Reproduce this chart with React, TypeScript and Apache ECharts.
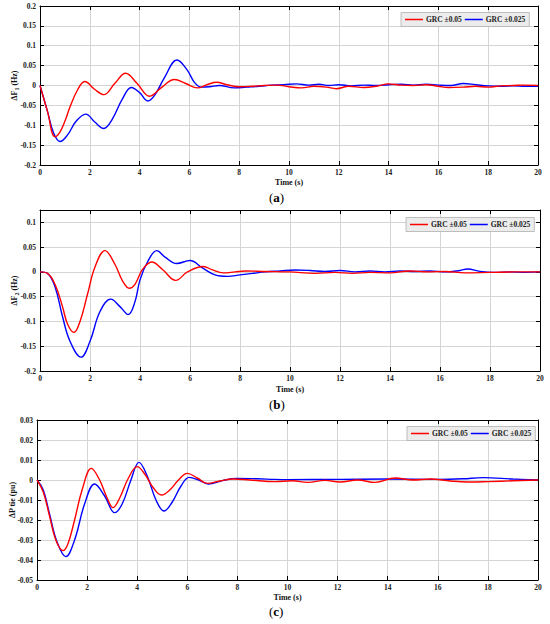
import React, { useEffect, useRef } from "react";
import * as echarts from "echarts";

// ---- Chart (a): ΔF1 ----
const f1RedT = [0, 0.3, 0.6, 0.8, 1.0, 1.2, 1.5, 1.8, 2.2, 2.56, 3.0, 3.44, 3.9, 4.4, 4.9, 5.4, 5.85, 6.33, 6.7, 7.1, 7.5, 8.0, 8.5, 9.0, 9.5, 10.0, 10.5, 11.0, 11.5, 11.9, 12.4, 13.0, 13.5, 14.0, 14.5, 15.0, 15.5, 16.0, 16.4, 17.0, 17.5, 18.0, 18.5, 19.0, 19.5, 20.0];
const f1RedV = [0, -0.065, -0.129, -0.117, -0.09, -0.055, -0.012, 0.010, -0.01, -0.023, 0.005, 0.031, 0.005, -0.027, -0.004, 0.015, 0.005, -0.006, 0.002, 0.008, 0.002, -0.003, -0.002, 0.0, 0.001, -0.003, -0.006, -0.002, -0.004, -0.008, -0.002, -0.005, -0.002, 0.004, 0.001, 0.0, 0.002, -0.002, -0.005, -0.004, -0.002, -0.004, -0.001, 0.0, 0.001, 0.0];
const f1BlueT = [0, 0.3, 0.55, 0.8, 1.1, 1.45, 1.84, 2.2, 2.56, 2.9, 3.3, 3.67, 4.0, 4.33, 4.6, 5.0, 5.5, 5.9, 6.2, 6.47, 6.8, 7.2, 7.8, 8.3, 8.8, 9.3, 9.8, 10.3, 10.8, 11.2, 11.6, 12.0, 12.5, 13.0, 13.5, 14.0, 14.5, 15.0, 15.5, 16.0, 16.5, 17.0, 17.5, 18.0, 18.5, 19.0, 19.5, 20.0];
const f1BlueV = [0, -0.065, -0.12, -0.141, -0.125, -0.09, -0.072, -0.092, -0.108, -0.085, -0.035, -0.005, -0.018, -0.039, -0.025, 0.02, 0.064, 0.04, 0.008, -0.004, -0.003, 0.0, -0.006, -0.004, -0.002, 0.001, 0.002, 0.004, 0.001, 0.003, 0.0, 0.002, -0.001, 0.001, 0.0, 0.002, 0.003, 0.001, 0.003, 0.001, 0.0, 0.005, 0.002, -0.001, -0.002, -0.001, -0.002, -0.002];

// ---- Chart (b): ΔF2 ----
const f2RedT = [0, 0.3, 0.6, 0.9, 1.1, 1.36, 1.6, 1.9, 2.2, 2.6, 3.0, 3.3, 3.57, 3.8, 4.1, 4.47, 4.9, 5.43, 5.9, 6.53, 6.9, 7.33, 7.8, 8.2, 9.0, 10.0, 11.0, 11.8, 12.5, 13.2, 14.0, 14.8, 15.5, 16.2, 17.0, 18.0, 19.0, 20.0];
const f2RedV = [0, -0.003, -0.025, -0.07, -0.105, -0.122, -0.1, -0.045, 0.01, 0.043, 0.015, -0.018, -0.033, -0.025, 0.005, 0.020, 0.005, -0.017, 0.0, 0.011, 0.004, -0.002, 0.0, 0.002, 0.001, 0.0, -0.003, -0.001, -0.003, -0.001, -0.002, 0.002, 0.0, 0.001, -0.002, -0.001, 0.0, 0.0];
const f2BlueT = [0, 0.3, 0.6, 0.9, 1.2, 1.64, 2.0, 2.4, 2.83, 3.2, 3.53, 3.8, 4.0, 4.3, 4.67, 5.0, 5.47, 6.0, 6.5, 7.0, 7.5, 8.0, 8.5, 9.0, 9.6, 10.2, 10.8, 11.4, 12.0, 12.6, 13.2, 13.8, 14.4, 15.0, 15.6, 16.2, 16.8, 17.1, 17.6, 18.2, 18.8, 19.4, 20.0];
const f2BlueV = [0, -0.003, -0.03, -0.09, -0.14, -0.172, -0.14, -0.08, -0.055, -0.07, -0.086, -0.06, -0.016, 0.02, 0.043, 0.03, 0.017, 0.023, 0.008, -0.006, -0.009, -0.006, -0.003, 0.0, 0.002, 0.004, 0.003, 0.001, 0.003, 0.0, 0.002, 0.0, 0.002, 0.001, 0.002, 0.0, 0.003, 0.006, 0.001, -0.001, 0.0, -0.001, 0.0];

// ---- Chart (c): ΔP tie ----
const ptRedT = [0, 0.25, 0.5, 0.75, 1.04, 1.24, 1.5, 1.8, 2.17, 2.5, 2.8, 3.04, 3.3, 3.65, 4.0, 4.3, 4.65, 4.97, 5.3, 5.65, 6.0, 6.4, 6.8, 7.3, 7.84, 8.5, 9.5, 10.2, 10.8, 11.5, 12.1, 12.8, 13.5, 14.3, 15.0, 15.7, 16.5, 17.2, 18.0, 19.0, 20.0];
const ptRedV = [0, -0.006, -0.018, -0.03, -0.0353, -0.0317, -0.02, -0.005, 0.0058, 0.0, -0.009, -0.0138, -0.009, 0.001, 0.0067, 0.003, -0.004, -0.0075, -0.005, 0.0, 0.0033, 0.001, -0.0017, -0.0005, 0.0005, 0.0, -0.0008, -0.0004, -0.0012, -0.0002, -0.001, 0.0, -0.0012, 0.001, 0.0, 0.0005, -0.0005, -0.001, -0.0008, -0.0004, 0.0];
const ptBlueT = [0, 0.25, 0.5, 0.8, 1.15, 1.5, 1.9, 2.3, 2.7, 3.1, 3.4, 3.75, 4.07, 4.4, 4.75, 5.07, 5.4, 5.75, 6.08, 6.45, 6.84, 7.4, 7.97, 8.8, 9.5, 10.0, 12.0, 14.0, 16.0, 17.0, 17.8, 19.0, 20.0];
const ptBlueV = [0, -0.005, -0.017, -0.031, -0.0383, -0.03, -0.012, -0.002, -0.008, -0.0163, -0.012, 0.0, 0.0088, 0.002, -0.01, -0.0155, -0.011, -0.003, 0.0013, 0.0, -0.002, -0.0003, 0.0008, 0.0006, 0.0003, 0.0002, 0.0003, 0.0005, 0.0003, 0.0006, 0.0012, 0.0005, 0.0];

const legendNames = ["GRC ±0.05", "GRC ±0.025"];
const xTicks = { min: 0, max: 20, interval: 2 };
const panelLabels = ["a", "b", "c"];

const pairs = (t: number[], v: number[]) => t.map((x, i) => [x, v[i]]);

const FONT = "'Liberation Serif', 'Times New Roman', serif";

export default function App() {
  const ref = useRef<HTMLDivElement>(null);
  useEffect(() => {
    document.body.style.margin = "0";
    const chart = echarts.init(ref.current!, undefined, { renderer: "svg" });

    const grids = [
      { left: 40, top: 6, width: 498, height: 159, containLabel: false, outerBoundsMode: "none" },
      { left: 40, top: 210, width: 500, height: 161, containLabel: false, outerBoundsMode: "none" },
      { left: 37, top: 420, width: 501, height: 160, containLabel: false, outerBoundsMode: "none" },
    ];
    const yCfg = [
      { min: -0.2, max: 0.2, interval: 0.05, gap: 20, name: "{b|ΔF}{s|1}{b| (Hz)}" },
      { min: -0.2, max: 0.125, interval: 0.05, gap: 20, name: "{b|ΔF}{s|2}{b| (Hz)}" },
      { min: -0.05, max: 0.03, interval: 0.01, gap: 19, name: "{b|ΔP tie (pu)}" },
    ];
    const xNameGap = [13.5, 14, 13];
    const legendPos = [
      { left: 401, top: 12.5 },
      { left: 406, top: 217.5 },
      { left: 407, top: 426.5 },
    ];
    const labelY = [199, 406, 613];

    const labelStyle = { fontFamily: FONT, fontWeight: "bold" as const, fontSize: 7.5, color: "#222" };
    const xAxis: any[] = [];
    const yAxis: any[] = [];
    grids.forEach((g, i) => {
      xAxis.push({
        type: "value", gridIndex: i, ...xTicks, position: "bottom",
        name: "Time (s)", nameLocation: "middle", nameGap: xNameGap[i], nameMoveOverlap: false,
        nameTextStyle: { fontFamily: FONT, fontWeight: "bold", fontSize: 8, color: "#111" },
        axisLine: { onZero: false, lineStyle: { color: "#000", width: 1 } },
        axisTick: { inside: true, length: 4, lineStyle: { color: "#000" } },
        axisLabel: { ...labelStyle, margin: 3.5 },
        splitLine: { show: true, lineStyle: { color: "#d4d4d4", width: 1 } },
      });
      xAxis.push({
        type: "value", gridIndex: i, ...xTicks, position: "top",
        axisLine: { onZero: false, lineStyle: { color: "#000", width: 1 } },
        axisTick: { inside: true, length: 4, lineStyle: { color: "#000" } },
        axisLabel: { show: false },
        splitLine: { show: false },
      });
      const y = yCfg[i];
      yAxis.push({
        type: "value", gridIndex: i, min: y.min, max: y.max, interval: y.interval, position: "left",
        name: y.name, nameLocation: "middle", nameGap: y.gap, nameRotate: 90, nameMoveOverlap: false,
        nameTextStyle: {
          rich: {
            b: { fontFamily: FONT, fontWeight: "bold", fontSize: 8, color: "#111", lineHeight: 12, verticalAlign: "middle" },
            s: { fontFamily: FONT, fontWeight: "bold", fontSize: 6, color: "#111", lineHeight: 6, verticalAlign: "bottom" },
          },
        },
        axisLine: { onZero: false, lineStyle: { color: "#000", width: 1 } },
        axisTick: { inside: true, length: 4, lineStyle: { color: "#000" } },
        axisLabel: { ...labelStyle, margin: 4, showMaxLabel: i !== 1 },
        splitLine: { show: true, lineStyle: { color: "#d4d4d4", width: 1 } },
      });
      yAxis.push({
        type: "value", gridIndex: i, min: y.min, max: y.max, interval: y.interval, position: "right",
        axisLine: { onZero: false, lineStyle: { color: "#000", width: 1 } },
        axisTick: { inside: true, length: 4, lineStyle: { color: "#000" } },
        axisLabel: { show: false },
        splitLine: { show: false },
      });
    });

    const data = [
      [pairs(f1RedT, f1RedV), pairs(f1BlueT, f1BlueV)],
      [pairs(f2RedT, f2RedV), pairs(f2BlueT, f2BlueV)],
      [pairs(ptRedT, ptRedV), pairs(ptBlueT, ptBlueV)],
    ];
    const colors = ["#ff0000", "#0000ff"];
    const series: any[] = [];
    data.forEach((pair, i) => {
      pair.forEach((d, k) => {
        series.push({
          type: "line", name: legendNames[k], xAxisIndex: i * 2, yAxisIndex: i * 2,
          data: d, symbol: "none", smooth: 0.4, clip: true,
          lineStyle: { color: colors[k], width: 1.4 }, itemStyle: { color: colors[k] },
          z: k === 0 ? 3 : 2,
        });
      });
    });

    const legend = legendPos.map((p) => ({
      data: legendNames, left: p.left, top: p.top, orient: "horizontal",
      backgroundColor: "#ececec", borderColor: "#b0b0b0", borderWidth: 0.8,
      padding: [3, 4, 3, 4], itemGap: 3, itemWidth: 18, itemHeight: 1.5,
      icon: "rect",
      textStyle: { fontFamily: FONT, fontWeight: "bold", fontSize: 7.5, color: "#222", padding: [0, 0, 0, -2] },
      selectedMode: false,
    }));

    const graphic = panelLabels.map((l, i) => ({
      type: "text", left: 269, top: labelY[i] - 8,
      style: {
        text: "{p|(}{l|" + l + "}{p|)}",
        rich: {
          p: { fontFamily: FONT, fontSize: 13, fill: "#000" },
          l: { fontFamily: FONT, fontSize: 13, fontWeight: "bold", fill: "#000" },
        },
      },
    }));

    chart.setOption({
      animation: false,
      backgroundColor: "#fff",
      grid: grids,
      xAxis, yAxis, series, legend, graphic,
    });
    return () => chart.dispose();
  }, []);
  return <div ref={ref} style={{ width: 550, height: 624 }} />;
}
